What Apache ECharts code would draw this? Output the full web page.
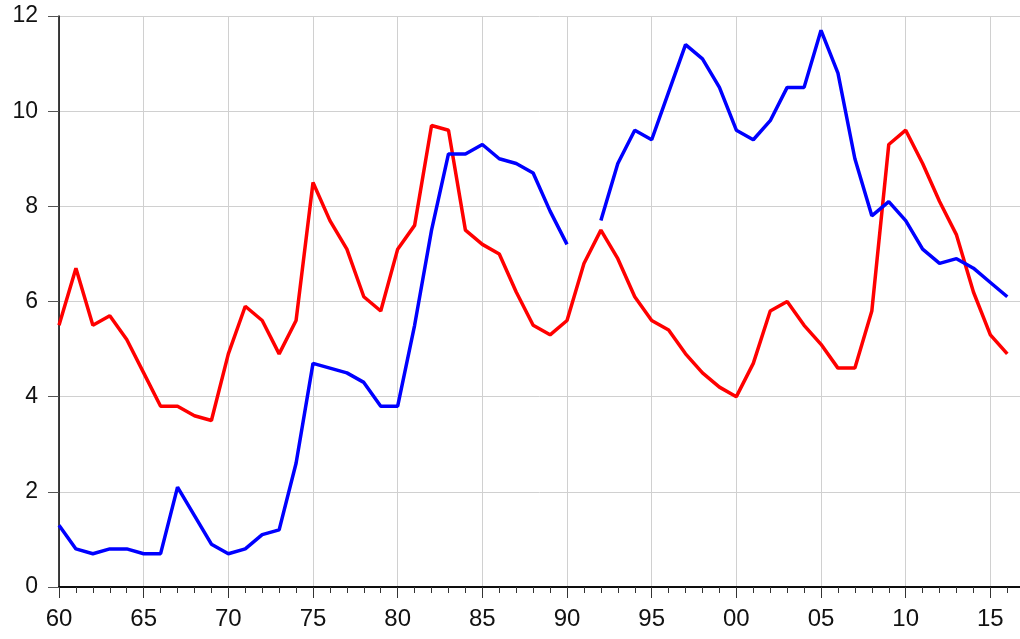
<!DOCTYPE html>
<html>
<head>
<meta charset="utf-8">
<script src="https://cdn.jsdelivr.net/npm/echarts@6/dist/echarts.min.js"></script>
<style>
  html, body { margin: 0; padding: 0; background: #fff; }
  #main { width: 1020px; height: 639px; }
</style>
</head>
<body>
<div id="main"></div>
<script>
var years = [];
for (var y = 1960; y <= 2016; y++) years.push(y);

// red series
var redValues = [
  5.5, 6.7, 5.5, 5.7, 5.2, 4.5, 3.8, 3.8, 3.6, 3.5,
  4.9, 5.9, 5.6, 4.9, 5.6, 8.5, 7.7, 7.1, 6.1, 5.8,
  7.1, 7.6, 9.7, 9.6, 7.5, 7.2, 7.0, 6.2, 5.5, 5.3,
  5.6, 6.8, 7.5, 6.9, 6.1, 5.6, 5.4, 4.9, 4.5, 4.2,
  4.0, 4.7, 5.8, 6.0, 5.5, 5.1, 4.6, 4.6, 5.8, 9.3,
  9.6, 8.9, 8.1, 7.4, 6.2, 5.3, 4.9
];

// blue series (1991 missing)
var blueValues = [
  1.3, 0.8, 0.7, 0.8, 0.8, 0.7, 0.7, 2.1, 1.5, 0.9,
  0.7, 0.8, 1.1, 1.2, 2.6, 4.7, 4.6, 4.5, 4.3, 3.8,
  3.8, 5.5, 7.5, 9.1, 9.1, 9.3, 9.0, 8.9, 8.7, 7.9,
  7.2, null, 7.7, 8.9, 9.6, 9.4, 10.4, 11.4, 11.1, 10.5,
  9.6, 9.4, 9.8, 10.5, 10.5, 11.7, 10.8, 9.0, 7.8, 8.1,
  7.7, 7.1, 6.8, 6.9, 6.7, 6.4, 6.1
];

function pairs(vals) {
  return years.map(function (yr, i) { return [yr, vals[i]]; });
}

var myChart = echarts.init(document.getElementById('main'));

var option = {
  animation: false,
  backgroundColor: '#fff',
  grid: { left: 59, right: 0, top: 16, bottom: 52, containLabel: false },
  xAxis: [
    {
      type: 'value',
      min: 1960,
      max: 2016.75,
      interval: 5,
      axisLine: { show: true, onZero: false, lineStyle: { color: '#000', width: 1.5 } },
      axisTick: { show: true, length: 11, lineStyle: { color: '#333', width: 1 } },
      minorTick: { show: true, splitNumber: 5, length: 6, lineStyle: { color: '#333', width: 1 } },
      splitLine: { show: true, lineStyle: { color: '#d0d0d0', width: 1 } },
      axisLabel: {
        color: '#111', fontSize: 24, fontFamily: 'Liberation Sans, Arial, sans-serif', margin: 20,
        showMaxLabel: false,
        formatter: function (v) { return String(v % 100).padStart(2, '0'); }
      }
    },
    {
      type: 'value',
      position: 'top',
      min: 1960,
      max: 2016.75,
      axisLine: { show: true, lineStyle: { color: '#000', width: 1.5 } },
      axisTick: { show: false },
      axisLabel: { show: false },
      splitLine: { show: false }
    }
  ],
  yAxis: {
    type: 'value',
    min: 0,
    max: 12,
    interval: 2,
    axisLine: { show: true, lineStyle: { color: '#000', width: 1.5 } },
    axisTick: { show: true, length: 11, lineStyle: { color: '#555', width: 1 } },
    splitLine: { show: true, lineStyle: { color: '#d0d0d0', width: 1 } },
    axisLabel: { color: '#111', fontSize: 23, fontFamily: 'Liberation Sans, Arial, sans-serif', margin: 21 }
  },
  series: [
    {
      name: 'red',
      type: 'line',
      data: pairs(redValues),
      showSymbol: false,
      lineStyle: { color: '#ff0000', width: 3.5 },
      itemStyle: { color: '#ff0000' },
      z: 3
    },
    {
      name: 'blue',
      type: 'line',
      data: pairs(blueValues),
      showSymbol: false,
      connectNulls: false,
      lineStyle: { color: '#0000ff', width: 3.5 },
      itemStyle: { color: '#0000ff' },
      z: 4
    }
  ]
};

myChart.setOption(option);
</script>
</body>
</html>
